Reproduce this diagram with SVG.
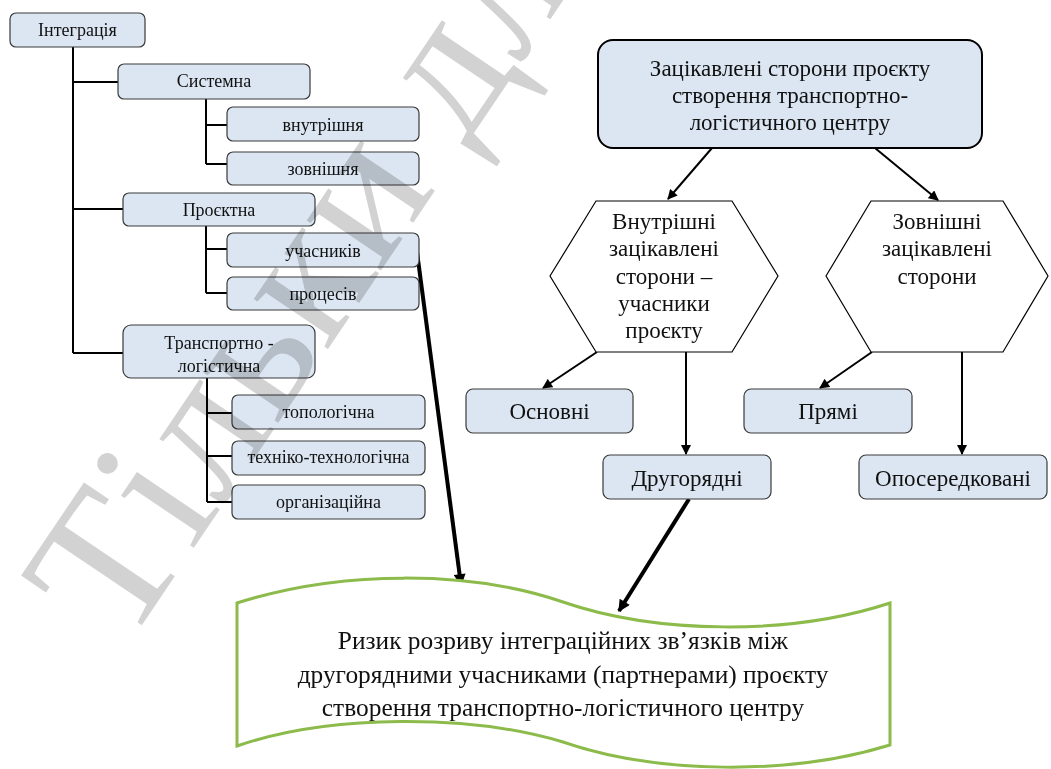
<svg xmlns="http://www.w3.org/2000/svg" width="1051" height="769" viewBox="0 0 1051 769">
<defs>
<style>
.bx{fill:#dce6f2;stroke:#3a3a3a;stroke-width:1.2}
.t{font-family:"Liberation Serif","Times New Roman",serif;fill:#111;text-anchor:middle}
.s{font-size:18px}
.l{font-size:23px}
.w{font-size:25.4px}
.tree{fill:none;stroke:#000;stroke-width:2}
.ar{fill:none;stroke:#000;stroke-width:2}
.ark{fill:none;stroke:#000;stroke-width:4}
.wm{font-family:"Liberation Serif","Times New Roman",serif;font-size:195px;fill:#d2d2d2;mix-blend-mode:multiply}
</style>
<marker id="ah" viewBox="0 0 10 10" refX="9" refY="5" markerWidth="11" markerHeight="10" markerUnits="userSpaceOnUse" orient="auto"><path d="M0,0 L10,5 L0,10 Z" fill="#000"/></marker>
<marker id="ahk" viewBox="0 0 10 10" refX="9" refY="5" markerWidth="14" markerHeight="12" markerUnits="userSpaceOnUse" orient="auto"><path d="M0,0 L10,5 L0,10 Z" fill="#000"/></marker>
</defs>
<rect width="1051" height="769" fill="#fff"/>

<g id="connectors">
<path class="tree" d="M73,47 V353 M73,82 H118 M73,209 H123 M73,353 H123"/>
<path class="tree" d="M206,99 V164 M206,125 H227 M206,164 H227"/>
<path class="tree" d="M206,226 V293 M206,249 H227 M206,293 H227"/>
<path class="tree" d="M207,378 V502 M207,413 H232 M207,456 H232 M207,502 H232"/>
<line class="ar" x1="712" y1="148" x2="668" y2="199" marker-end="url(#ah)"/>
<line class="ar" x1="875" y1="148" x2="938" y2="200" marker-end="url(#ah)"/>
<line class="ar" x1="597" y1="352" x2="543" y2="388" marker-end="url(#ah)"/>
<line class="ar" x1="686" y1="352" x2="686" y2="454" marker-end="url(#ah)"/>
<line class="ar" x1="872" y1="352" x2="820" y2="388" marker-end="url(#ah)"/>
<line class="ar" x1="962" y1="352" x2="962" y2="454" marker-end="url(#ah)"/>
<line class="ark" x1="689" y1="499" x2="619" y2="611" marker-end="url(#ahk)"/>
<line class="ark" x1="417" y1="252" x2="461" y2="585" marker-end="url(#ahk)"/>
</g>

<g id="n-integr"><rect class="bx" x="10" y="13" width="135" height="34" rx="6"/><text class="t s" x="77.5" y="36">Інтеграція</text></g>
<g id="n-system"><rect class="bx" x="118" y="64" width="192" height="35" rx="6"/><text class="t s" x="214" y="87">Системна</text></g>
<g id="n-vnutr"><rect class="bx" x="227" y="107" width="192" height="34" rx="6"/><text class="t s" x="323" y="131">внутрішня</text></g>
<g id="n-zovn"><rect class="bx" x="227" y="152" width="192" height="33" rx="6"/><text class="t s" x="323" y="175">зовнішня</text></g>
<g id="n-proekt"><rect class="bx" x="123" y="193" width="192" height="33" rx="6"/><text class="t s" x="219" y="216">Проєктна</text></g>
<g id="n-uchasn"><rect class="bx" x="227" y="233" width="192" height="34" rx="6"/><text class="t s" x="323" y="257">учасників</text></g>
<g id="n-proces"><rect class="bx" x="227" y="277" width="192" height="33" rx="6"/><text class="t s" x="323" y="300">процесів</text></g>
<g id="n-tl"><rect class="bx" x="123" y="325" width="192" height="53" rx="8"/><text class="t s" x="219" y="349">Транспортно -</text><text class="t s" x="219" y="372">логістична</text></g>
<g id="n-topol"><rect class="bx" x="232" y="395" width="193" height="34" rx="6"/><text class="t s" x="328.5" y="418">топологічна</text></g>
<g id="n-tech"><rect class="bx" x="232" y="441" width="193" height="34" rx="6"/><text class="t s" x="328.5" y="463">техніко-технологічна</text></g>
<g id="n-org"><rect class="bx" x="232" y="485" width="193" height="34" rx="6"/><text class="t s" x="328.5" y="508">організаційна</text></g>

<g id="n-top"><rect x="598" y="40" width="384" height="108" rx="15" fill="#dce6f2" stroke="#000" stroke-width="2"/>
<text class="t l" x="790" y="76">Зацікавлені сторони проєкту</text>
<text class="t l" x="790" y="103">створення транспортно-</text>
<text class="t l" x="790" y="130">логістичного центру</text></g>

<g id="n-hex1"><polygon points="550,276 596,201 732,201 778,276 732,352 596,352" fill="#fff" stroke="#000" stroke-width="1.2"/>
<text class="t l" x="664" y="229">Внутрішні</text>
<text class="t l" x="664" y="256">зацікавлені</text>
<text class="t l" x="664" y="283.5">сторони –</text>
<text class="t l" x="664" y="311">учасники</text>
<text class="t l" x="664" y="338">проєкту</text></g>

<g id="n-hex2"><polygon points="826,276 871,201 1003,201 1048,276 1003,352 871,352" fill="#fff" stroke="#000" stroke-width="1.2"/>
<text class="t l" x="937" y="229">Зовнішні</text>
<text class="t l" x="937" y="256">зацікавлені</text>
<text class="t l" x="937" y="283.5">сторони</text></g>

<g id="n-osn"><rect class="bx" x="466" y="389" width="167" height="44" rx="7"/><text class="t l" x="549.5" y="419">Основні</text></g>
<g id="n-pryami"><rect class="bx" x="744" y="389" width="168" height="44" rx="7"/><text class="t l" x="828" y="419">Прямі</text></g>
<g id="n-drug"><rect class="bx" x="603" y="455" width="168" height="44" rx="7"/><text class="t l" x="687" y="486">Другорядні</text></g>
<g id="n-oposer"><rect class="bx" x="859" y="455" width="188" height="44" rx="7"/><text class="t l" x="953" y="486">Опосередковані</text></g>

<g id="n-risk"><path d="M237,603 C340,570 470,570 563,602 C656,634 790,636 890,603 L890,745 C790,776 656,774 563,742 C470,714 330,714 237,746 Z" fill="#fff" stroke="#8cbb4b" stroke-width="3"/>
<text class="t w" x="563" y="649">Ризик розриву інтеграційних зв’язків між</text>
<text class="t w" x="563" y="683">другорядними учасниками (партнерами) проєкту</text>
<text class="t w" x="563" y="716">створення транспортно-логістичного центру</text></g>

<text class="wm" x="125" y="650" transform="rotate(-56 125 650)">Тільки для</text>
</svg>
